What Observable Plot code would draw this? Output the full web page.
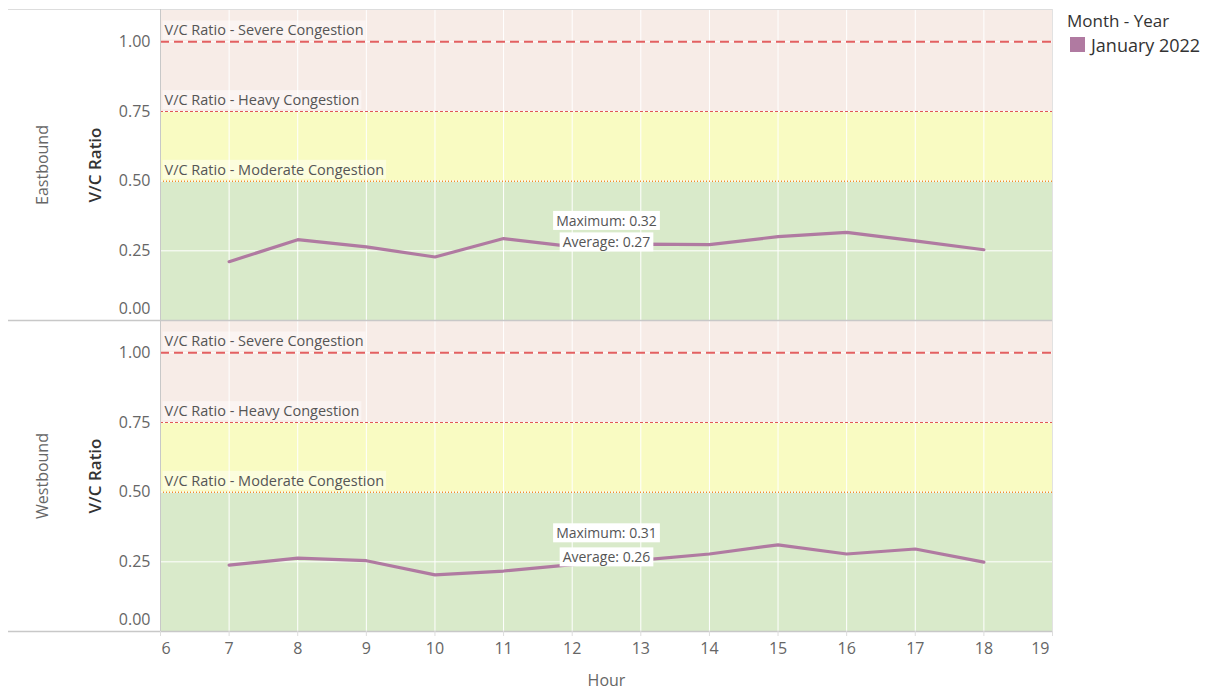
<!DOCTYPE html>
<html><head><meta charset="utf-8">
<script src="https://cdn.jsdelivr.net/npm/d3@7"></script>
<script src="https://cdn.jsdelivr.net/npm/@observablehq/plot@0.6"></script>
<style>
body{margin:0;background:#fff;font-family:"Open Sans",sans-serif;}
#wrap{position:relative;width:1207px;height:691px;overflow:hidden;}
#wrap > svg{position:absolute;left:0;top:0;}
#legendTitle{position:absolute;left:1067px;top:8px;font-size:17px;line-height:26px;color:#333;white-space:nowrap;}
#legend{position:absolute;left:1070px;top:28px;width:137px;white-space:nowrap;}
#legend div{white-space:nowrap;flex-wrap:nowrap !important;}
#legend svg{margin-right:6px !important;}
</style></head><body><div id="wrap"></div>
<script>
// ---- data ----
const hours = [7, 8, 9, 10, 11, 12, 13, 14, 15, 16, 17, 18];
const eastbound = [0.211, 0.290, 0.264, 0.228, 0.294, 0.265, 0.274, 0.272, 0.301, 0.316, 0.286, 0.254];
const westbound = [0.238, 0.263, 0.254, 0.203, 0.217, 0.240, 0.256, 0.278, 0.311, 0.278, 0.296, 0.249];
const directions = ["Eastbound", "Westbound"];
const monthYear = ["January 2022"];
const thresholdValues = [0.5, 0.75, 1.0];
const thresholdNames = ["V/C Ratio - Moderate Congestion", "V/C Ratio - Heavy Congestion", "V/C Ratio - Severe Congestion"];
const xTicks = [6, 7, 8, 9, 10, 11, 12, 13, 14, 15, 16, 17, 18, 19];
const yTicks = [0, 0.25, 0.5, 0.75, 1];
const xDomain = [6, 19];
const yDomain = [0, 1.116];

// ---- derived tables ----
const series = [eastbound, westbound];
const rows = directions.flatMap((d, i) => hours.map((h, j) => ({direction: d, hour: h, vc: series[i][j]})));
const stats = directions.map((d, i) => ({direction: d, avg: d3.mean(series[i]), max: d3.max(series[i])}));
const zones = [
  {y1: 0, y2: thresholdValues[0]},
  {y1: thresholdValues[0], y2: thresholdValues[1]},
  {y1: thresholdValues[1], y2: yDomain[1]}
];
const zoneFills = ["#d9eaca", "#f9fbc2", "#f7ece7"];
const refs = thresholdValues.map((v, i) => ({v, name: thresholdNames[i]}));
const lineColor = "#b07aa1";
const f2 = d3.format(".2f");

const zoneMarks = zones.map((z, i) => Plot.rect([z], {x1: xDomain[0], x2: xDomain[1], y1: "y1", y2: "y2", fill: zoneFills[i]}));

const plot = Plot.plot({
  width: 1207,
  height: 691,
  marginTop: 8,
  marginRight: 155,
  marginBottom: 60,
  marginLeft: 160,
  style: {fontFamily: "Open Sans, sans-serif", fontSize: "16px", color: "#666", background: "transparent"},
  x: {domain: xDomain},
  y: {domain: yDomain},
  fy: {domain: directions, padding: 0, axis: null},
  marks: [
    ...zoneMarks,
    Plot.gridX({ticks: xTicks, stroke: "#fff", strokeOpacity: 1, strokeWidth: 1}),
    Plot.gridY({ticks: yTicks.slice(1), stroke: "#fff", strokeOpacity: 1, strokeWidth: 1}),
    Plot.ruleY([refs[0]], {y: "v", stroke: "#f28e2b", strokeWidth: 1.5, strokeDasharray: "1,2"}),
    Plot.ruleY([refs[1]], {y: "v", stroke: "#e15759", strokeWidth: 1, strokeDasharray: "3,2"}),
    Plot.ruleY([refs[2]], {y: "v", stroke: "#e15759", strokeWidth: 2, strokeDasharray: "9,5", strokeOpacity: 0.95}),
    Plot.text(refs, {x: xDomain[0], y: "v", text: "name", textAnchor: "start", dx: 4, dy: -11, fontSize: 14.5, fill: "#555", ariaDescription: "reflabel"}),
    // borders
    Plot.ruleY([yDomain[1]], {stroke: "#ddd", insetLeft: -152}),
    Plot.ruleY([0], {stroke: "#c8c8c8", strokeWidth: 1.5, insetLeft: -152}),
    Plot.ruleX([xDomain[0]], {stroke: "#c8c8c8"}),
    Plot.ruleX([xDomain[1]], {stroke: "#e2e2e2"}),
    // series
    Plot.line(rows, {x: "hour", y: "vc", fy: "direction", stroke: lineColor, strokeWidth: 3.2, strokeLinejoin: "round"}),
    // stats labels
    Plot.text(stats, {fy: "direction", y: "max", text: d => `Maximum: ${f2(d.max)}`, dy: -11, fontSize: 14, fill: "#555", ariaDescription: "statlabel"}),
    Plot.text(stats, {fy: "direction", y: "avg", text: d => `Average: ${f2(d.avg)}`, dy: -2, fontSize: 14, fill: "#555", ariaDescription: "statlabel"}),
    // axes
    Plot.axisY({ticks: yTicks.slice(1), tickFormat: ".2f", tickSize: 0, tickPadding: 10, fontSize: 16, fill: "#666", label: null}),
    Plot.axisY({ticks: [yTicks[0]], tickFormat: ".2f", tickSize: 0, tickPadding: 10, dy: -12, fontSize: 16, fill: "#666", label: null}),
    Plot.axisX({ticks: xTicks, tickFormat: d => (d === xDomain[0] || d === xDomain[1]) ? "" : d, tickSize: 5, tickPadding: 6, stroke: "#ddd", fontSize: 16, fill: "#666", label: "Hour", labelAnchor: "center", labelArrow: "none", labelOffset: 54}),
    Plot.axisX({ticks: [xDomain[0]], tickSize: 0, tickPadding: 11, textAnchor: "start", dx: 1, fontSize: 16, fill: "#666", label: null}),
    Plot.axisX({ticks: [xDomain[1]], tickSize: 0, tickPadding: 11, textAnchor: "end", dx: -3, fontSize: 16, fill: "#666", label: null}),
    // facet + y labels
    Plot.text(directions, {fy: d => d, text: d => d, frameAnchor: "left", textAnchor: "middle", rotate: -90, dx: -118, fontSize: 16, fill: "#666"}),
    Plot.text(directions, {fy: d => d, text: () => "V/C Ratio", frameAnchor: "left", textAnchor: "middle", rotate: -90, dx: -65, fontSize: 17, fontWeight: 600, fill: "#333"})
  ]
});

const wrap = document.getElementById("wrap");
wrap.appendChild(plot);

function addBoxes(desc, fill, opacity, padX, padY) {
  plot.querySelectorAll(`g[aria-description="${desc}"] text`).forEach(t => {
    const b = t.getBBox();
    const r = document.createElementNS("http://www.w3.org/2000/svg", "rect");
    r.setAttribute("x", b.x - padX);
    r.setAttribute("y", b.y - padY);
    r.setAttribute("width", b.width + 2 * padX);
    r.setAttribute("height", b.height + 2 * padY);
    r.setAttribute("fill", fill);
    r.setAttribute("fill-opacity", opacity);
    r.setAttribute("stroke", "none");
    const tr = t.getAttribute("transform");
    if (tr) r.setAttribute("transform", tr);
    t.parentNode.insertBefore(r, t);
  });
}
addBoxes("reflabel", "#fff", 0.45, 2, 0);
addBoxes("statlabel", "#fff", 1, 3, 0);

const title = document.createElement("div");
title.id = "legendTitle";
title.textContent = "Month - Year";
wrap.appendChild(title);

const legend = Plot.legend({
  color: {type: "ordinal", domain: monthYear, range: [lineColor]},
  swatchSize: 15,
  style: {fontFamily: "Open Sans, sans-serif", fontSize: "18px", color: "#333", margin: 0}
});
const lg = document.createElement("div");
lg.id = "legend";
lg.appendChild(legend);
wrap.appendChild(lg);
</script>
</body></html>
